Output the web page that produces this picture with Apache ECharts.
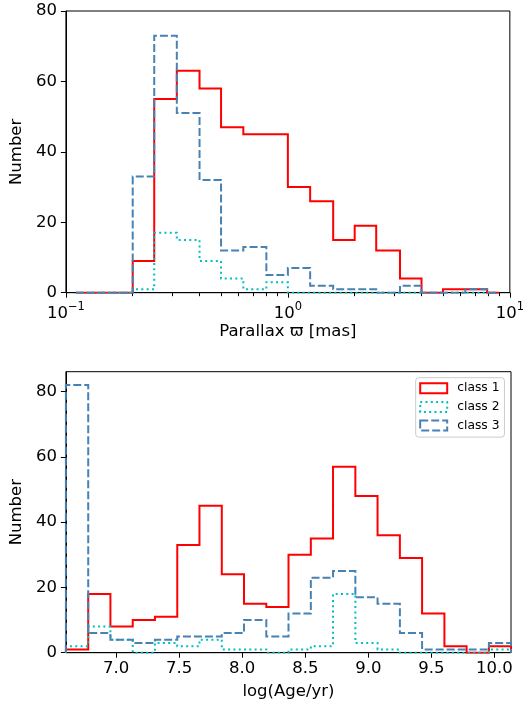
<!DOCTYPE html>
<html><head><meta charset="utf-8">
<script src="https://cdn.jsdelivr.net/npm/echarts@6/dist/echarts.min.js"></script>
<style>html,body{margin:0;padding:0;background:#fff}#c{width:527px;height:705px}</style>
</head><body><div id="c"></div>
<script>
// ---- Top panel: parallax histogram (log bins) ----
const parallaxEdges = [0.111, 0.2, 0.25, 0.316, 0.4, 0.5, 0.63, 0.8, 1.0, 1.26, 1.6, 2.0, 2.5, 3.2, 4.0, 5.0, 6.3, 7.9, 8.93];
const parallaxClass1 = [0, 9, 55, 63, 58, 47, 45, 45, 30, 26, 15, 19, 12, 4, 0, 1, 1, 0];
const parallaxClass2 = [0, 1, 17, 15, 9, 4, 1, 3, 0, 0, 0, 0, 0, 0, 0, 0, 0, 0];
const parallaxClass3 = [0, 33, 73, 51, 32, 12, 13, 5, 7, 2, 1, 1, 0, 2, 0, 0, 1, 0];
const parallaxMinorTicks = [0.2, 0.3, 0.4, 0.5, 0.6, 0.7, 0.8, 0.9, 2, 3, 4, 5, 6, 7, 8, 9];

// ---- Bottom panel: age histogram ----
const ageEdges = [6.602, 6.779, 6.955, 7.132, 7.308, 7.485, 7.661, 7.838, 8.014, 8.191, 8.367, 8.544, 8.720, 8.897, 9.073, 9.250, 9.426, 9.603, 9.779, 9.956, 10.131];
const ageClass1 = [1, 18, 8, 10, 11, 33, 45, 24, 15, 14, 30, 35, 57, 48, 36, 29, 12, 2, 0, 2];
const ageClass2 = [2, 8, 4, 0, 3, 2, 4, 1, 1, 0, 1, 2, 18, 3, 1, 0, 0, 0, 0, 1];
const ageClass3 = [82, 6, 4, 3, 4, 5, 5, 6, 10, 5, 12, 23, 25, 17, 15, 6, 1, 1, 1, 3];
const ageTicks = [7.0, 7.5, 8.0, 8.5, 9.0, 9.5, 10.0];
const countTicks = [0, 20, 40, 60, 80];

const classNames = ['class 1', 'class 2', 'class 3'];
const colors = ['#ff0000', '#00bfbf', '#4682b4'];
const dashes = ['solid', [2, 3.3], [8, 3]];

function stepPts(edges, vals) {
  const pts = [[edges[0], 0]];
  for (let i = 0; i < vals.length; i++) {
    pts.push([edges[i], vals[i]]);
    pts.push([edges[i + 1], vals[i]]);
  }
  pts.push([edges[edges.length - 1], 0]);
  return pts;
}

const FONT = 'DejaVu Sans';
const TICK = 16.5;
const black = '#000';

function series(name, idx, edges, vals, gi) {
  return {
    name: name, type: 'line', xAxisIndex: gi === 0 ? 0 : 2, yAxisIndex: gi,
    data: stepPts(edges, vals), symbol: 'none', showSymbol: false, silent: true,
    lineStyle: { color: colors[idx], width: 2, type: dashes[idx], cap: 'butt', join: 'miter' },
    itemStyle: { color: colors[idx] }, animation: false, z: 2 + idx
  };
}

const chart = echarts.init(document.getElementById('c'), null, { renderer: 'canvas' });
const axisLineStyle = { show: true, onZero: false, lineStyle: { color: black, width: 1 } };
const tickStyle = { show: true, length: 5, lineStyle: { color: black, width: 1 } };
const minorLog = parallaxMinorTicks.map(v => Math.log10(v));

const option = {
  backgroundColor: '#fff',
  animation: false,
  textStyle: { fontFamily: FONT },
  grid: [
    { left: 62, top: 11, width: 449, height: 281.7, show: true, borderColor: black, borderWidth: 1, backgroundColor: 'transparent' },
    { left: 62, top: 371.7, width: 449, height: 281, show: true, borderColor: black, borderWidth: 1, backgroundColor: 'transparent' }
  ],
  legend: {
    left: 415.7, top: 377.7, orient: 'vertical',
    itemWidth: 27, itemHeight: 10, itemGap: 4.7,
    padding: [3.5, 5, 4.5, 3.5],
    borderColor: '#cccccc', borderWidth: 1, borderRadius: 3,
    backgroundColor: 'rgba(255,255,255,0.8)',
    selectedMode: false,
    textStyle: { fontFamily: FONT, fontSize: 12.3, color: black, lineHeight: 14, padding: [0, 0, 0, 5] },
    data: classNames.map((n, i) => ({
      name: n, icon: 'rect',
      itemStyle: { color: 'rgba(0,0,0,0)', borderColor: colors[i], borderWidth: 2, borderType: dashes[i] }
    }))
  },
  xAxis: [
    {
      gridIndex: 0, position: 'bottom', type: 'log', logBase: 10, min: 0.1, max: 10, interval: 1,
      axisLine: axisLineStyle, axisTick: tickStyle, splitLine: { show: false },
      axisLabel: {
        margin: 8, color: black, fontFamily: FONT,
        formatter: function (v) {
          const e = Math.round(Math.log10(v));
          return '{b|10}{s|' + (e < 0 ? '\u2212' + (-e) : e) + '}';
        },
        rich: {
          b: { fontSize: TICK, fontFamily: FONT, color: black, lineHeight: 22, verticalAlign: 'bottom' },
          s: { fontSize: 11.5, fontFamily: FONT, color: black, lineHeight: 12, verticalAlign: 'top' }
        }
      },
      name: 'Parallax \u03d6 [mas]', nameLocation: 'middle', nameGap: 30,
      nameTextStyle: { fontSize: TICK, color: black, fontFamily: FONT }
    },
    {
      // minor ticks of the log axis, placed in log10 space on a tick-only axis
      gridIndex: 0, position: 'bottom', offset: 0, type: 'value', min: -1, max: 1,
      axisLine: { show: true, onZero: false, lineStyle: { color: 'rgba(0,0,0,0)', width: 1 } },
      splitLine: { show: false },
      axisTick: { show: true, length: 3.5, customValues: minorLog, lineStyle: { color: '#000000', width: 1 } },
      axisLabel: { show: false }
    },
    {
      gridIndex: 1, position: 'bottom', type: 'value', min: ageEdges[0], max: ageEdges[ageEdges.length - 1],
      axisLine: axisLineStyle, splitLine: { show: false },
      axisTick: Object.assign({ customValues: ageTicks }, tickStyle),
      axisLabel: {
        customValues: ageTicks, margin: 8, fontSize: TICK, color: black, fontFamily: FONT,
        formatter: v => v.toFixed(1)
      },
      name: 'log(Age/yr)', nameLocation: 'middle', nameGap: 31,
      nameTextStyle: { fontSize: TICK, color: black, fontFamily: FONT }
    }
  ],
  yAxis: [
    {
      gridIndex: 0, type: 'value', min: 0, max: 80, interval: 20,
      axisLine: axisLineStyle, axisTick: tickStyle, splitLine: { show: false },
      axisLabel: { margin: 9, fontSize: TICK, color: black, fontFamily: FONT },
      name: 'Number', nameLocation: 'middle', nameRotate: 90, nameGap: 37,
      nameTextStyle: { fontSize: TICK, color: black, fontFamily: FONT }
    },
    {
      gridIndex: 1, type: 'value', min: 0, max: 86.1,
      axisLine: axisLineStyle, splitLine: { show: false },
      axisTick: Object.assign({ customValues: countTicks }, tickStyle),
      axisLabel: { customValues: countTicks, margin: 9, fontSize: TICK, color: black, fontFamily: FONT },
      name: 'Number', nameLocation: 'middle', nameRotate: 90, nameGap: 37,
      nameTextStyle: { fontSize: TICK, color: black, fontFamily: FONT }
    }
  ],
  series: [
    series(classNames[0], 0, parallaxEdges, parallaxClass1, 0),
    series(classNames[1], 1, parallaxEdges, parallaxClass2, 0),
    series(classNames[2], 2, parallaxEdges, parallaxClass3, 0),
    series(classNames[0], 0, ageEdges, ageClass1, 1),
    series(classNames[1], 1, ageEdges, ageClass2, 1),
    series(classNames[2], 2, ageEdges, ageClass3, 1),
    // empty helper series so the minor-tick axis is bound to the grid
    { name: 'minor-ticks', type: 'line', xAxisIndex: 1, yAxisIndex: 0, data: [], silent: true, symbol: 'none' }
  ]
};
chart.setOption(option);
</script>
</body></html>
